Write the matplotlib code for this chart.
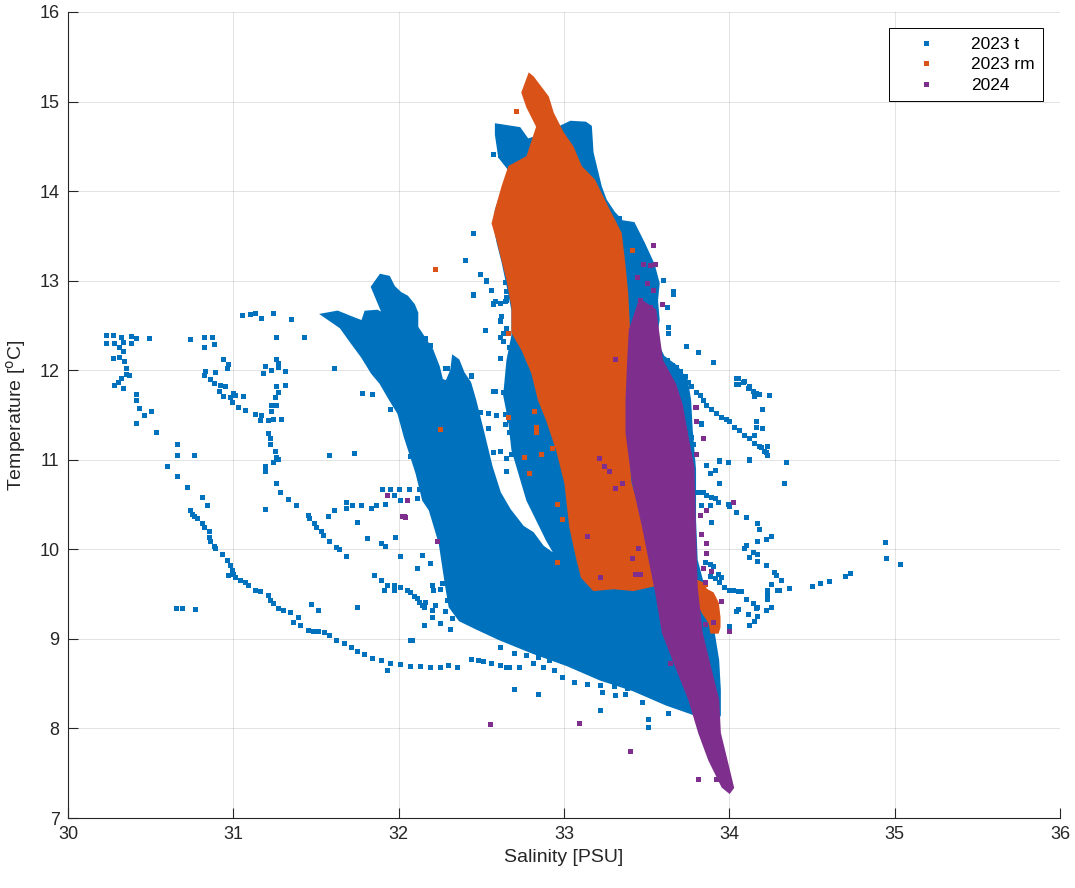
import numpy as np
import matplotlib
matplotlib.use("Agg")
import matplotlib.pyplot as plt

plt.rcParams['font.family'] = ['Liberation Sans', 'DejaVu Sans']

BLUE = '#0072BD'
ORANGE = '#D95319'
PURPLE = '#7E2F8E'

# dense cloud outlines (salinity PSU, temperature C)
t23_body_sal = [31.54, 31.63, 31.71, 31.78, 31.80, 31.87, 31.91, 31.84, 31.89, 31.94, 31.97, 32.01, 32.05, 32.09,
                32.11, 32.11, 32.16, 32.20, 32.24, 32.26, 32.29, 32.32, 32.33, 32.36, 32.39, 32.43, 32.46, 32.51,
                32.56, 32.61, 32.67, 32.75, 32.81, 32.87, 32.96, 33.01, 32.90, 32.78, 32.69, 32.67, 32.64, 32.66,
                32.69, 32.69, 32.66, 32.63, 32.60, 32.58, 32.59, 32.63, 32.67, 32.61, 32.59, 32.59, 32.73, 32.78,
                32.88, 33.04, 33.13, 33.16, 33.17, 33.22, 33.25, 33.30, 33.35, 33.42, 33.48, 33.54, 33.57, 33.56,
                33.57, 33.55, 33.60, 33.68, 33.74, 33.76, 33.77, 33.79, 33.79, 33.80, 33.84, 33.87, 33.90, 33.93,
                33.94, 33.94, 33.92, 33.76, 33.62, 33.42, 33.22, 33.02, 32.81, 32.61, 32.47, 32.37, 32.31, 32.29,
                32.25, 32.19, 32.15, 32.11, 32.07, 32.04, 32.00, 31.95, 31.89, 31.84, 31.78, 31.72, 31.65]
t23_body_temp = [12.62, 12.65, 12.59, 12.54, 12.65, 12.66, 12.62, 12.93, 13.06, 13.04, 12.93, 12.86, 12.82, 12.73,
                 12.64, 12.48, 12.34, 12.23, 12.04, 11.89, 11.87, 12.00, 12.15, 12.11, 11.97, 11.86, 11.67, 11.30,
                 10.92, 10.63, 10.44, 10.25, 10.18, 10.03, 9.91, 9.75, 10.10, 10.55, 11.11, 11.44, 11.72, 12.11,
                 12.39, 12.67, 12.95, 13.21, 13.43, 13.62, 13.79, 14.01, 14.24, 14.38, 14.63, 14.74, 14.70, 14.57,
                 14.63, 14.77, 14.76, 14.72, 14.43, 14.05, 13.90, 13.76, 13.66, 13.64, 13.42, 13.18, 12.97, 12.78,
                 12.56, 12.34, 12.15, 12.04, 11.89, 11.67, 11.33, 10.89, 10.33, 9.88, 9.60, 9.38, 9.10, 8.76,
                 8.43, 8.15, 8.07, 8.18, 8.27, 8.43, 8.55, 8.71, 8.85, 9.00, 9.12, 9.21, 9.36, 9.58,
                 10.07, 10.44, 10.55, 10.85, 11.08, 11.25, 11.52, 11.67, 11.86, 11.97, 12.15, 12.30, 12.48]

rm23_body_sal = [32.79, 32.75, 32.78, 32.84, 32.78, 32.67, 32.63, 32.59, 32.57, 32.60, 32.63, 32.66, 32.69, 32.69,
                 32.75, 32.81, 32.85, 32.90, 32.96, 33.01, 33.04, 33.08, 33.11, 33.18, 33.30, 33.42, 33.54, 33.50,
                 33.46, 33.40, 33.38, 33.38, 33.40, 33.39, 33.38, 33.36, 33.34, 33.26, 33.18, 33.10, 33.05, 32.99,
                 32.93, 32.90, 32.81]
rm23_body_temp = [15.30, 15.10, 14.94, 14.72, 14.38, 14.27, 14.05, 13.79, 13.64, 13.45, 13.23, 13.01, 12.71, 12.42,
                  12.23, 11.97, 11.67, 11.44, 11.11, 10.74, 10.25, 9.91, 9.69, 9.55, 9.57, 9.55, 9.60, 9.99,
                  10.36, 10.74, 11.22, 11.67, 12.11, 12.48, 12.86, 13.23, 13.53, 13.82, 14.12, 14.27, 14.49, 14.65,
                  14.87, 15.05, 15.27]
rm23_patch_sal = [33.79, 33.84, 33.86, 33.90, 33.93, 33.94, 33.94, 33.93, 33.89, 33.88, 33.84, 33.81, 33.80]
rm23_patch_temp = [9.66, 9.62, 9.55, 9.51, 9.40, 9.24, 9.13, 9.07, 9.07, 9.18, 9.29, 9.40, 9.51]

y24_body_sal = [33.40, 33.46, 33.55, 33.57, 33.59, 33.67, 33.71, 33.74, 33.78, 33.79, 33.80, 33.83, 33.88, 33.93,
                33.94, 33.99, 34.02, 34.00, 33.96, 33.88, 33.82, 33.76, 33.68, 33.60, 33.56, 33.52, 33.48, 33.42,
                33.38, 33.38, 33.39]
y24_body_temp = [12.45, 12.78, 12.67, 12.39, 12.11, 11.84, 11.61, 11.30, 10.92, 10.18, 9.58, 9.07, 8.69, 8.32,
                 7.95, 7.57, 7.34, 7.29, 7.35, 7.65, 7.95, 8.32, 8.69, 9.07, 9.51, 9.88, 10.25, 10.74,
                 11.30, 11.67, 12.11]

# scattered single samples (salinity, temperature)
t23_points = np.array([
    (30.23, 12.39), (30.27, 12.39), (30.32, 12.37), (30.38, 12.38), (30.41, 12.36), (30.23, 12.30), (30.28, 12.30),
    (30.33, 12.32), (30.38, 12.30), (30.49, 12.36), (30.31, 12.26), (30.33, 12.22), (30.31, 12.15), (30.27, 12.14),
    (30.34, 12.10), (30.35, 12.03), (30.35, 11.96), (30.37, 11.95), (30.32, 11.91), (30.30, 11.87), (30.28, 11.83),
    (30.33, 11.80), (30.41, 11.73), (30.41, 11.67), (30.43, 11.58), (30.46, 11.50), (30.50, 11.55), (30.41, 11.41),
    (30.53, 11.31),
    (30.66, 11.18), (30.66, 11.05), (30.76, 11.05), (30.60, 10.93), (30.66, 10.82), (30.72, 10.70), (30.81, 10.58),
    (30.84, 10.49), (30.74, 10.44), (30.75, 10.40), (30.76, 10.37), (30.78, 10.35), (30.81, 10.29), (30.82, 10.25),
    (30.85, 10.20), (30.85, 10.14), (30.86, 10.09), (30.88, 10.04), (30.89, 10.01), (30.93, 9.95), (30.96, 9.88),
    (30.98, 9.83), (30.99, 9.77), (31.00, 9.73), (30.97, 9.71), (31.01, 9.69), (31.04, 9.66), (31.07, 9.64),
    (31.09, 9.60), (31.13, 9.55), (31.16, 9.53), (31.21, 9.49), (31.22, 9.43), (31.24, 9.40), (31.27, 9.34),
    (31.30, 9.32), (31.34, 9.30), (31.36, 9.19), (31.39, 9.25), (31.40, 9.15), (31.45, 9.10), (31.48, 9.09),
    (31.51, 9.09), (31.55, 9.08), (31.58, 9.04), (31.62, 8.99), (31.67, 8.95), (31.71, 8.91), (31.75, 8.87),
    (31.79, 8.83), (31.84, 8.79), (31.89, 8.77), (31.95, 8.73), (32.01, 8.72), (32.07, 8.70), (32.13, 8.70),
    (32.19, 8.69), (32.25, 8.69), (32.30, 8.71), (32.35, 8.69), (31.93, 8.65),
    (30.65, 9.34), (30.69, 9.34), (30.77, 9.33), (31.47, 9.39), (31.51, 9.32), (31.75, 9.36), (32.07, 8.99),
    (31.05, 12.62), (31.10, 12.63), (31.13, 12.64), (31.17, 12.58), (31.24, 12.64), (31.35, 12.57), (31.26, 12.37),
    (31.43, 12.37), (30.74, 12.35), (30.82, 12.37), (30.87, 12.37), (30.82, 12.26), (30.88, 12.29), (30.94, 12.13),
    (30.97, 12.07), (30.96, 12.02), (30.83, 11.99), (30.89, 11.98), (30.82, 11.95), (30.86, 11.90), (30.88, 11.86),
    (30.92, 11.84), (30.95, 11.82), (30.91, 11.77), (30.94, 11.71), (30.98, 11.70), (31.00, 11.75), (31.01, 11.72),
    (31.06, 11.71), (30.99, 11.65), (31.03, 11.59), (31.07, 11.56), (31.13, 11.51), (31.17, 11.50), (31.16, 11.44),
    (31.21, 11.44), (31.24, 11.46), (31.29, 11.45), (31.19, 12.05), (31.18, 11.97), (31.23, 12.00), (31.27, 12.04),
    (31.31, 11.99), (31.26, 12.13), (31.27, 12.08), (31.26, 11.82), (31.27, 11.76), (31.31, 11.84), (31.25, 11.70),
    (31.26, 11.61), (31.23, 11.61), (31.23, 11.54), (31.21, 11.30), (31.22, 11.24), (31.22, 11.18), (31.25, 11.10),
    (31.26, 11.03), (31.27, 11.01), (31.24, 10.97), (31.19, 10.93), (31.19, 10.87), (31.26, 10.74), (31.28, 10.64),
    (31.33, 10.56), (31.38, 10.50), (31.45, 10.38), (31.46, 10.35), (31.49, 10.29), (31.50, 10.25), (31.53, 10.20),
    (31.54, 10.16), (31.58, 10.09), (31.62, 10.03), (31.64, 10.00), (31.68, 9.93), (31.19, 10.45), (31.61, 12.03),
    (31.78, 11.75), (31.84, 11.73), (31.58, 11.05), (31.73, 11.08),
    (31.90, 10.67), (31.95, 10.67), (32.00, 10.67), (32.06, 10.67), (32.12, 10.67), (31.97, 10.61), (32.01, 10.55),
    (32.11, 10.57), (31.92, 10.51), (31.86, 10.49), (31.83, 10.46), (31.77, 10.49), (31.72, 10.49), (31.68, 10.53),
    (31.68, 10.46), (31.61, 10.44), (31.57, 10.37), (31.75, 10.31), (31.81, 10.13), (31.89, 10.07), (31.92, 10.04),
    (31.98, 10.14), (32.01, 9.93), (32.14, 9.94), (32.19, 9.85), (32.11, 9.79), (31.85, 9.71), (31.89, 9.66),
    (31.93, 9.60), (31.91, 9.55), (31.97, 9.60), (31.97, 9.55), (32.01, 9.58), (32.05, 9.55), (32.07, 9.52),
    (32.09, 9.48), (32.11, 9.46), (32.12, 9.41), (32.14, 9.38), (32.15, 9.36), (32.16, 9.41), (32.20, 9.60),
    (32.21, 9.55), (32.25, 9.56), (32.26, 9.62), (32.20, 9.24), (32.25, 9.18), (32.15, 9.15), (32.20, 9.32),
    (32.28, 9.31), (32.32, 9.23), (32.31, 9.11), (32.29, 9.43), (32.22, 9.38),
    (33.62, 12.11), (33.65, 12.06), (33.68, 12.04), (33.70, 11.99), (33.73, 11.93), (33.75, 11.87), (33.77, 11.82),
    (33.80, 11.76), (33.82, 11.72), (33.84, 11.67), (33.86, 11.61), (33.89, 11.57), (33.92, 11.52), (33.95, 11.48),
    (33.98, 11.45), (34.00, 11.43), (34.03, 11.37), (34.06, 11.33), (34.09, 11.28), (34.12, 11.24), (34.15, 11.19),
    (34.18, 11.15), (34.21, 11.10), (34.23, 11.05),
    (33.60, 13.01), (33.66, 12.89), (33.66, 12.85), (33.62, 12.71), (33.63, 12.48), (33.63, 12.42), (33.74, 12.27),
    (33.81, 12.20), (33.90, 12.09), (34.05, 11.91), (34.05, 11.85), (34.09, 11.88), (34.12, 11.82), (34.14, 11.77),
    (34.16, 11.75), (34.18, 11.74), (34.15, 11.71), (34.24, 11.72), (34.20, 11.57), (34.16, 11.43), (34.16, 11.37),
    (34.20, 11.36), (34.15, 11.28), (34.23, 11.15), (34.34, 10.97), (34.12, 11.01), (33.99, 10.97), (33.94, 10.99),
    (33.91, 10.89), (33.88, 10.85), (33.86, 10.94), (33.83, 11.40), (33.77, 11.26), (33.78, 11.18),
    (34.19, 11.14), (34.22, 11.09), (34.23, 11.05), (34.12, 11.00), (34.33, 10.74),
    (33.78, 10.70), (33.81, 10.64), (33.84, 10.64), (33.86, 10.61), (33.89, 10.59), (33.91, 10.57), (33.93, 10.53),
    (33.99, 10.51), (34.00, 10.48), (34.04, 10.42), (34.10, 10.36), (34.17, 10.29), (34.18, 10.23), (34.25, 10.15),
    (34.22, 10.12), (34.17, 10.09), (34.10, 10.05), (34.09, 10.01), (34.14, 9.97), (34.17, 9.95), (34.12, 9.92),
    (34.17, 9.87), (34.22, 9.82), (34.27, 9.75), (34.28, 9.71), (34.31, 9.66), (34.25, 9.61), (34.23, 9.55),
    (34.29, 9.55), (34.30, 9.55), (34.36, 9.57), (34.23, 9.49), (34.23, 9.44), (34.25, 9.36), (34.22, 9.32),
    (34.10, 9.45), (34.14, 9.40), (34.16, 9.34), (34.17, 9.36), (34.05, 9.33), (34.04, 9.31), (34.11, 9.28),
    (34.17, 9.26), (34.15, 9.20), (34.12, 9.16), (34.00, 9.14), (34.00, 9.55), (33.97, 9.58), (33.94, 9.64),
    (33.91, 9.68), (33.88, 9.70), (34.02, 9.55), (34.05, 9.53), (34.07, 9.54), (33.90, 9.81), (33.93, 9.73),
    (33.95, 9.69), (33.88, 9.84), (33.85, 9.86), (34.50, 9.59), (34.55, 9.62), (34.60, 9.65), (34.70, 9.70),
    (34.73, 9.74), (34.94, 10.08), (34.95, 9.90), (35.03, 9.84), (33.89, 10.31), (33.83, 10.49), (33.88, 10.50),
    (33.94, 10.74), (33.94, 11.00), (33.99, 10.98), (33.83, 11.41),
    (32.44, 8.78), (32.48, 8.76), (32.51, 8.75), (32.56, 8.73), (32.61, 8.71), (32.67, 8.69), (32.73, 8.69),
    (32.81, 8.73), (32.87, 8.69), (32.94, 8.65), (32.99, 8.58), (33.06, 8.52), (33.14, 8.50), (33.22, 8.49),
    (33.30, 8.47), (33.38, 8.45), (33.46, 8.43),
    (32.61, 8.91), (32.70, 8.84), (32.77, 8.82), (32.84, 8.80), (32.91, 8.76), (32.99, 8.75), (33.06, 8.78),
    (32.70, 8.44), (32.84, 8.39), (33.23, 8.41), (33.31, 8.37), (33.37, 8.39), (33.22, 8.21), (33.47, 8.30),
    (33.51, 8.11), (33.51, 8.02), (33.63, 8.17), (32.65, 8.69), (32.08, 8.99),
    (32.60, 14.73), (32.60, 14.66), (32.60, 14.57), (32.57, 14.41), (32.61, 14.40), (32.45, 13.53), (32.40, 13.23),
    (32.49, 13.08), (32.53, 13.00), (32.56, 12.90), (32.45, 12.84), (32.57, 12.74), (32.61, 12.75), (32.65, 12.78),
    (32.52, 12.45), (32.61, 12.56), (32.65, 12.47), (32.61, 12.37), (32.67, 12.26), (32.58, 11.77), (32.44, 11.95),
    (32.28, 12.02), (32.19, 12.28), (32.19, 12.21), (33.33, 13.70), (33.36, 13.62), (33.39, 13.62), (33.41, 13.53),
    (33.66, 12.88), (34.04, 11.91), (34.08, 11.87), (34.04, 11.85), (34.11, 11.80),
    (32.53, 13.01), (32.45, 12.85), (32.56, 12.90), (32.64, 12.98), (32.65, 12.88), (32.57, 12.75), (32.58, 12.77),
    (32.64, 12.77), (32.65, 12.82), (32.62, 12.60), (32.61, 12.55), (32.52, 12.45), (32.63, 12.42), (32.65, 12.46),
    (32.63, 12.33), (32.61, 12.14), (32.16, 12.36), (32.29, 12.03), (32.44, 11.94), (32.57, 11.77), (32.63, 11.76),
    (32.49, 11.53), (32.54, 11.52), (32.59, 11.50), (32.64, 11.51), (32.64, 11.40), (32.67, 11.44), (32.54, 11.35),
    (32.67, 11.31), (32.57, 11.09), (32.61, 11.10), (32.65, 11.02), (32.68, 11.07), (32.65, 10.88), (32.07, 11.04),
    (31.95, 11.57),
])

rm23_points = np.array([
    (32.22, 13.13), (32.25, 11.34), (32.82, 11.54), (32.83, 11.37), (32.83, 11.31), (32.66, 11.48), (32.86, 11.07),
    (32.93, 11.13), (32.76, 11.03), (32.79, 10.85), (32.96, 10.51), (32.99, 10.34), (32.96, 9.86), (33.85, 9.61),
    (32.71, 14.90), (32.66, 12.42), (33.41, 13.34),
])

y24_points = np.array([
    (31.93, 10.61), (32.05, 10.55), (32.02, 10.37), (32.04, 10.36), (32.23, 10.09), (33.54, 13.40), (33.55, 13.19),
    (33.52, 13.17), (33.48, 13.19), (33.59, 12.74), (33.80, 11.59), (33.80, 11.43), (33.84, 11.24), (33.80, 11.07),
    (33.44, 13.04), (33.50, 12.97), (33.54, 12.90), (33.46, 12.78), (33.52, 12.71), (33.44, 12.60), (33.49, 12.52),
    (33.54, 12.41), (33.46, 12.34), (34.02, 10.53), (33.86, 10.44), (33.82, 10.38), (33.83, 10.17), (33.86, 10.07),
    (33.86, 9.96), (33.89, 9.76), (33.95, 9.42), (34.00, 9.09), (32.55, 8.05), (33.09, 8.06), (33.40, 7.75),
    (33.81, 7.44), (33.92, 7.44), (33.64, 8.73), (33.22, 9.69), (33.41, 9.90), (33.45, 10.01), (33.43, 9.72),
    (33.46, 9.72), (33.14, 10.15), (33.21, 11.02), (33.24, 10.93), (33.27, 10.87), (33.31, 10.68), (33.35, 10.74),
    (32.03, 10.37), (33.79, 11.59), (33.73, 11.30), (33.84, 9.79), (33.85, 9.64), (33.85, 9.17), (33.90, 9.19),
    (33.31, 12.12),
])

fig = plt.figure(figsize=(10.75, 8.88), dpi=100)
ax = fig.add_axes([0.0633, 0.0788, 0.9228, 0.9077])

ms = 3.6
ax.fill(t23_body_sal, t23_body_temp, color=BLUE, lw=2, zorder=2)
ax.plot(t23_points[:, 0], t23_points[:, 1], 's', color=BLUE, ms=ms, mew=0, zorder=2.5, label='2023 t')

ax.fill(rm23_body_sal, rm23_body_temp, color=ORANGE, lw=2, zorder=3)
ax.fill(rm23_patch_sal, rm23_patch_temp, color=ORANGE, lw=1.5, zorder=3)
ax.plot(rm23_points[:, 0], rm23_points[:, 1], 's', color=ORANGE, ms=ms, mew=0, zorder=3.5, label='2023 rm')

ax.fill(y24_body_sal, y24_body_temp, color=PURPLE, lw=2, zorder=4)
ax.plot(y24_points[:, 0], y24_points[:, 1], 's', color=PURPLE, ms=ms, mew=0, zorder=4.5, label='2024')

ax.set_xlim(30, 36)
ax.set_ylim(7, 16)
ax.set_xticks(np.arange(30, 37, 1))
ax.set_yticks(np.arange(7, 17, 1))
ax.grid(True, color='#262626', alpha=0.15, lw=0.6)
ax.set_axisbelow(True)
for side in ['top', 'right']:
    ax.spines[side].set_visible(False)
for side in ['left', 'bottom']:
    ax.spines[side].set_color('#262626')
    ax.spines[side].set_linewidth(0.8)
ax.tick_params(direction='in', length=7, width=0.8, colors='#262626', labelsize=13, pad=6)

ax.set_xlabel('Salinity [PSU]', fontsize=14, color='#262626', labelpad=4)
ax.set_ylabel('Temperature [$^\\mathrm{o}$C]', fontsize=14, color='#262626', labelpad=8)

leg = ax.legend(loc='upper right', bbox_to_anchor=(0.983, 0.980), borderaxespad=0, fontsize=12.5,
                fancybox=False, framealpha=1, edgecolor='black', handlelength=3.2, handletextpad=1.0,
                borderpad=0.5, labelspacing=0.3)
leg.get_frame().set_linewidth(0.7)

fig.savefig('out.png', dpi=100)
